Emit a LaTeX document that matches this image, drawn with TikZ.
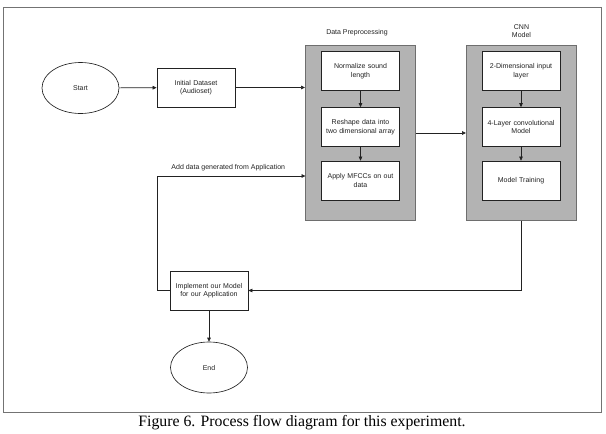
\documentclass[tikz,border=0pt]{standalone}
\usepackage{fontspec}
\setmainfont{Liberation Sans}
\newfontfamily\capfont{Liberation Serif}
\usetikzlibrary{arrows.meta,shapes.geometric}
\definecolor{contfill}{HTML}{B3B3B3}
\definecolor{contline}{HTML}{6E6E6E}
\definecolor{lnc}{HTML}{222222}
\begin{document}
\begin{tikzpicture}[x=1pt,y=-1pt,
  txt/.style={font=\fontsize{7}{8.4}\selectfont, text=lnc, align=center},
  box/.style={txt, draw=lnc, line width=0.75pt, fill=white, minimum width=77pt, minimum height=39pt, inner sep=1pt, text width=76pt},
  container/.style={draw=contline, line width=1pt, fill=contfill, minimum width=110pt, minimum height=175pt, inner sep=0pt},
  oval/.style={txt, ellipse, draw=lnc, line width=0.65pt, minimum width=77pt, minimum height=51pt, inner sep=0pt},
  conn/.style={draw=lnc, line width=0.65pt, -{Triangle[length=4pt,width=3.6pt]}},
  plain/.style={draw=lnc, line width=0.65pt}]
\useasboundingbox (0,0) rectangle (606,434);
\draw[draw=black!55, line width=0.7pt] (3,7) rectangle (601,412);
% containers
\node[container] (dp) at (360.5,132.5) {};
\node[container] (cnn) at (521.5,132.5) {};
\node[txt] (dplabel) at (357,33) {Data Preprocessing};
\node[txt] (cnnlabel) at (521.5,31) {CNN\\Model};
% nodes
\node[oval] (start) at (80.5,88) {Start};
\node[box] (init) at (196,87.5) {Initial Dataset\\(Audioset)};
\node[box] (norm) at (360.5,71) {Normalize sound\\length};
\node[box] (resh) at (360.5,127) {Reshape data into\\two dimensional array};
\node[box] (mfcc) at (360.5,180.5) {Apply MFCCs on out\\data};
\node[box] (in2d) at (521,71) {2-Dimensional input\\layer};
\node[box] (conv) at (521,127) {4-Layer convolutional\\Model};
\node[box] (train) at (521,180.5) {Model Training};
\node[box] (impl) at (209,290.5) {Implement our Model\\for our Application};
\node[oval] (end) at (209,367.5) {End};
\coordinate (dpin) at (dp.west |- init.east);
\coordinate (dpfb) at (305.5,176);
\coordinate (lc) at (157,176);
% connectors
\draw[conn] (start) -- (init);
\draw[conn] (init.east) -- (dpin);
\draw[conn] (norm) -- (resh);
\draw[conn] (resh) -- (mfcc);
\draw[conn] (in2d) -- (conv);
\draw[conn] (conv) -- (train);
\draw[conn] (dp.east |- 0,133) -- (cnn.west |- 0,133);
\draw[conn] (cnn.south) |- (impl.east);
\draw[conn] (impl.west) -| (lc) -- node[txt, above=1pt, pos=0.48] (addlbl) {Add data generated from Application} (dpfb);
\draw[conn] (impl) -- (end);
% caption
\node[font=\capfont\fontsize{15.8}{17}\selectfont] (cap) at (302,422.5) {Figure 6. Process flow diagram for this experiment.};
\end{tikzpicture}
\end{document}
